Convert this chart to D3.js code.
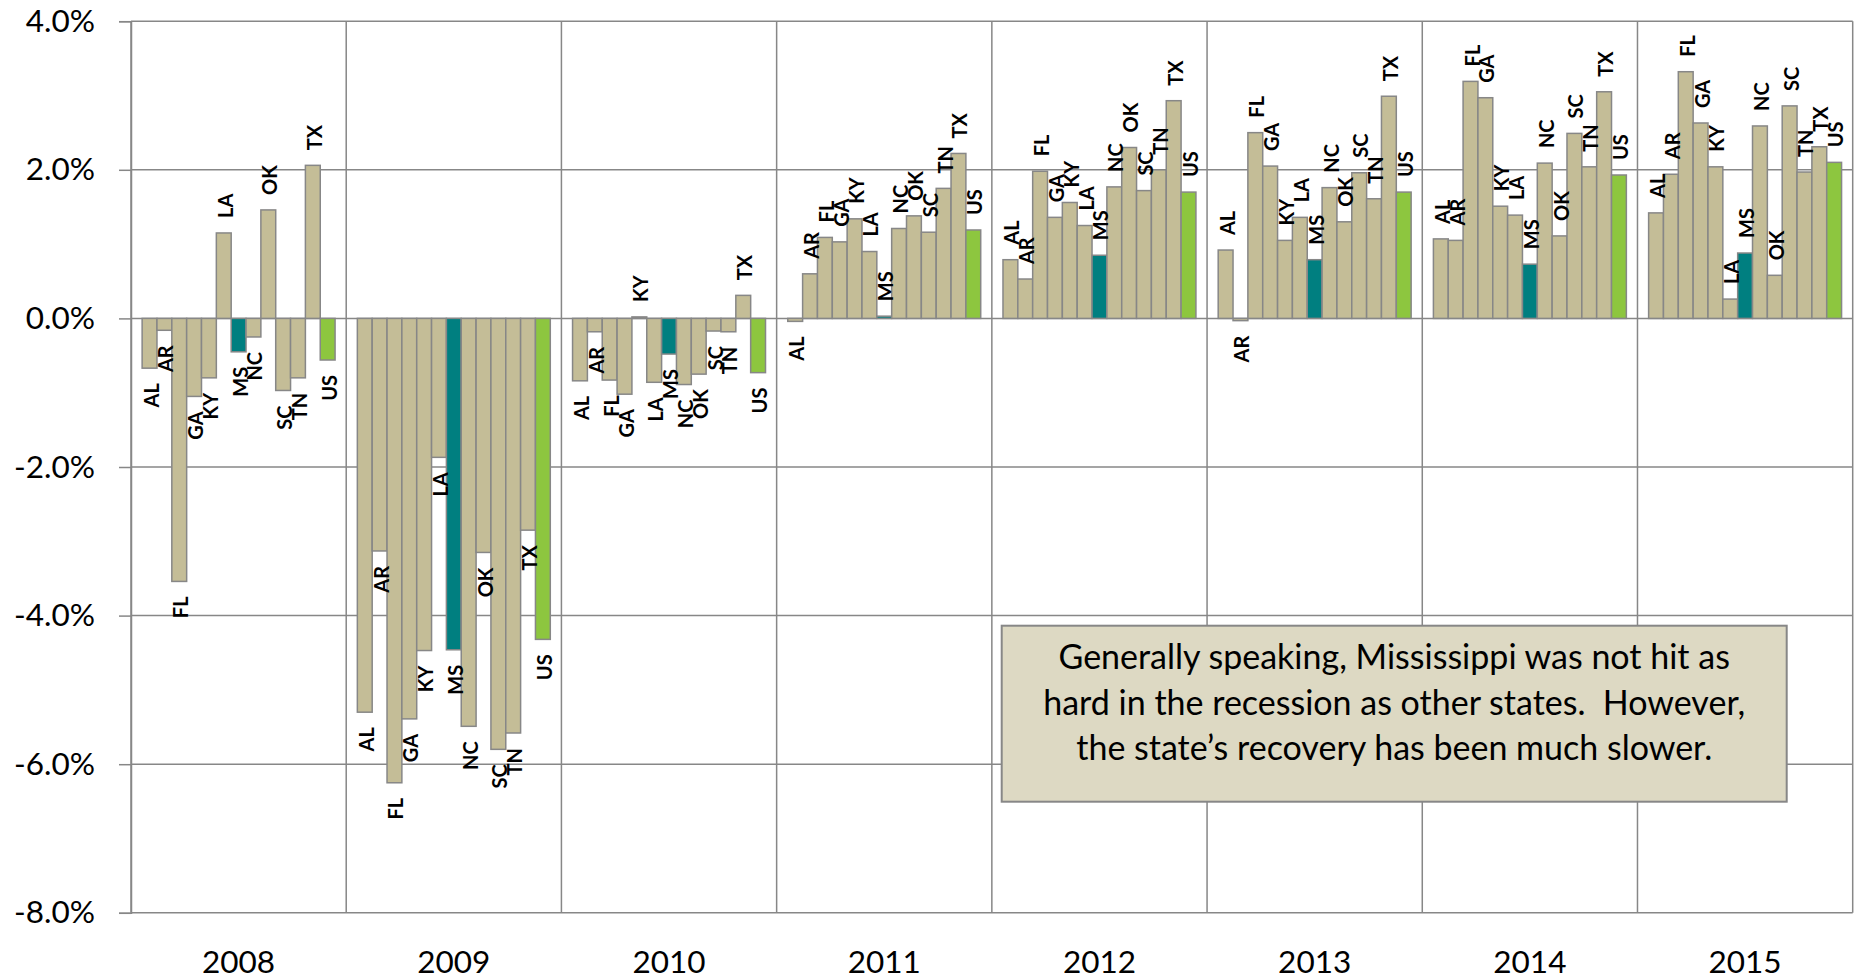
<!DOCTYPE html>
<html>
<head>
<meta charset="utf-8">
<script src="https://cdn.jsdelivr.net/npm/d3@7"></script>
<style>
  body { margin: 0; background: #fff; }
  svg text { font-family: Lato, "Liberation Sans", sans-serif; fill: #000; }
  .grid line { stroke: #878787; stroke-width: 1.5; }
  .bar { stroke: #878787; stroke-width: 1.5; }
  .lbl { font-size: 20px; font-weight: 700; }
  .note { white-space: pre; }
</style>
</head>
<body>
<svg id="chart" width="1856" height="979"></svg>
<script>
// 数据
const years  = ['2008', '2009', '2010', '2011', '2012', '2013', '2014', '2015'];
const states = ['AL', 'AR', 'FL', 'GA', 'KY', 'LA', 'MS', 'NC', 'OK', 'SC', 'TN', 'TX', 'US'];

// 各年增长率 (%), 顺序同 states
const v2008 = [-0.67, -0.16, -3.54, -1.05, -0.80,  1.15, -0.45, -0.25,  1.46, -0.97, -0.80,  2.06, -0.56];
const v2009 = [-5.30, -3.13, -6.25, -5.39, -4.47, -1.87, -4.46, -5.49, -3.15, -5.80, -5.58, -2.85, -4.32];
const v2010 = [-0.84, -0.18, -0.83, -1.02,  0.02, -0.86, -0.48, -0.89, -0.75, -0.17, -0.18,  0.31, -0.73];
const v2011 = [-0.04,  0.60,  1.09,  1.03,  1.34,  0.90,  0.03,  1.21,  1.38,  1.16,  1.75,  2.22,  1.19];
const v2012 = [ 0.79,  0.53,  1.98,  1.36,  1.56,  1.25,  0.85,  1.77,  2.30,  1.72,  2.00,  2.93,  1.70];
const v2013 = [ 0.92, -0.03,  2.50,  2.05,  1.05,  1.36,  0.79,  1.76,  1.30,  1.96,  1.61,  2.99,  1.70];
const v2014 = [ 1.07,  1.05,  3.19,  2.97,  1.51,  1.39,  0.73,  2.09,  1.11,  2.49,  2.04,  3.05,  1.93];
const v2015 = [ 1.42,  1.94,  3.32,  2.63,  2.04,  0.26,  0.88,  2.59,  0.58,  2.86,  1.97,  2.31,  2.10];

const yTicks = [0.04, 0.02, 0, -0.02, -0.04, -0.06, -0.08];

const noteLines = [
  'Generally speaking, Mississippi was not hit as',
  'hard in the recession as other states.  However,',
  'the state\u2019s recovery has been much slower.'
];

const byYear = [v2008, v2009, v2010, v2011, v2012, v2013, v2014, v2015];
const data = [];
years.forEach((yr, i) => {
  states.forEach((st, j) => data.push({ year: yr, state: st, value: byYear[i][j] / 100 }));
});

const colorOf = st => st === 'MS' ? '#007F80' : st === 'US' ? '#8DC63F' : '#C4BD97';

// 比例尺
const plot = { left: 131, right: 1852.7, top: 21.2, bottom: 912.8 };
const svg = d3.select('#chart');

const x0 = d3.scaleBand()
  .domain(years)
  .range([plot.left, plot.right])
  .padding(0);
const x1 = d3.scaleBand()
  .domain(states)
  .range([0, x0.bandwidth()])
  .paddingInner(0)
  .paddingOuter(0.75);
const y = d3.scaleLinear()
  .domain([-0.08, 0.04])
  .range([plot.bottom, plot.top]);

const fmt = v => d3.format('.1%')(v).replace('\u2212', '-');

// 网格线
const grid = svg.append('g').attr('class', 'grid');
grid.selectAll('.hg')
  .data(yTicks)
  .join('line')
    .attr('x1', plot.left)
    .attr('x2', plot.right)
    .attr('y1', d => y(d))
    .attr('y2', d => y(d));
grid.selectAll('.vg')
  .data(years.map(d => x0(d)).concat([plot.right]))
  .join('line')
    .attr('x1', d => d)
    .attr('x2', d => d)
    .attr('y1', plot.top)
    .attr('y2', plot.bottom);

// y 轴
const yAxis = svg.append('g')
  .attr('transform', `translate(${plot.left},0)`)
  .call(d3.axisLeft(y).tickValues(yTicks).tickSize(12).tickPadding(24).tickFormat(fmt));
yAxis.select('.domain').attr('stroke', '#878787').attr('stroke-width', 1.5);
yAxis.selectAll('.tick line').attr('stroke', '#878787').attr('stroke-width', 1.5);
yAxis.selectAll('.tick text')
  .style('font-size', '31.5px')
  .attr('fill', '#000');

// x 轴 (年份)
const xAxis = svg.append('g')
  .attr('transform', `translate(0,${plot.bottom})`)
  .call(d3.axisBottom(x0).tickSize(0).tickPadding(38));
xAxis.select('.domain').remove();
xAxis.selectAll('.tick text')
  .style('font-size', '31.5px')
  .attr('fill', '#000');

// 柱子
const groups = svg.append('g')
  .selectAll('g')
  .data(years)
  .join('g')
    .attr('transform', d => `translate(${x0(d)},0)`);

groups.selectAll('rect')
  .data(yr => data.filter(d => d.year === yr))
  .join('rect')
    .attr('class', 'bar')
    .attr('x', d => x1(d.state))
    .attr('y', d => y(Math.max(0, d.value)))
    .attr('width', x1.bandwidth())
    .attr('height', d => Math.abs(y(d.value) - y(0)))
    .attr('fill', d => colorOf(d.state))
    .attr('stroke-width', d => d.state === 'MS' ? 3 : 1.5);

// 标签 (竖排)
const gap = 15;
groups.selectAll('text')
  .data(yr => data.filter(d => d.year === yr))
  .join('text')
    .attr('class', 'lbl')
    .attr('transform', d => {
      const cx = x1(d.state) + x1.bandwidth() / 2 + 1;
      const cy = d.value >= 0 ? y(d.value) - gap : y(d.value) + gap;
      return `translate(${cx},${cy}) rotate(-90)`;
    })
    .attr('text-anchor', d => d.value >= 0 ? 'start' : 'end')
    .attr('dominant-baseline', 'central')
    .text(d => d.state);

// 注释框
const box = { x: 1001.7, y: 625.7, w: 785, h: 176 };
const note = svg.append('g');
note.append('rect')
  .attr('x', box.x)
  .attr('y', box.y)
  .attr('width', box.w)
  .attr('height', box.h)
  .attr('fill', '#DDD9C3')
  .attr('stroke', '#878787')
  .attr('stroke-width', 2);
note.selectAll('text')
  .data(noteLines)
  .join('text')
    .attr('class', 'note')
    .attr('x', box.x + box.w / 2)
    .attr('y', (d, i) => 669 + i * 45.5)
    .attr('text-anchor', 'middle')
    .style('font-size', '34px')
    .text(d => d);
</script>
</body>
</html>
